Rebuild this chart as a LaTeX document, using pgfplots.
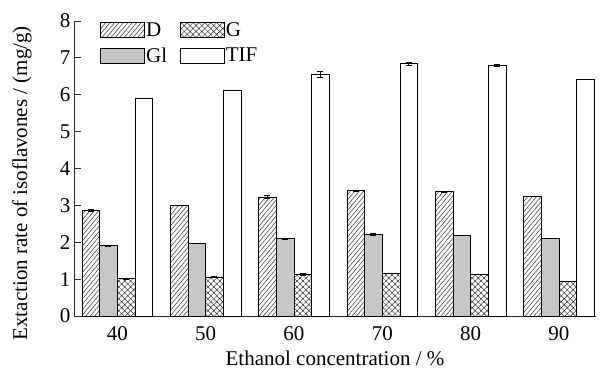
\documentclass[border=0pt]{standalone}
\usepackage{pgfplots}
\pgfplotsset{compat=1.18}
\usepackage{fontspec}
\setmainfont{Liberation Serif}
\usetikzlibrary{patterns.meta}
\begin{document}
\begin{tikzpicture}[font=\fontsize{21}{24}\selectfont]
\begin{axis}[
  scale only axis, width=522pt, height=295pt,
  xmin=-0.49, xmax=5.42, ymin=0, ymax=8,
  axis x line*=bottom, axis y line*=left,
  axis line style={-, line width=0.8pt, black!85},
  ytick={0,1,...,8}, tick align=inside, major tick length=7pt,
  y tick style={line width=0.8pt, black!85},
  xtick={0,1,2,3,4,5}, xticklabels={40,50,60,70,80,90},
  x tick style={draw=none},
  /pgf/number format/assume math mode=true,
  ybar, bar width=0.2,
  ylabel={Extaction rate of isoflavones / (mg/g)},
  ylabel style={at={(axis description cs:-0.0996,0.45)}, anchor=center},
  xlabel={Ethanol concentration / \%},
  xlabel style={at={(axis description cs:0.5,-0.142)}, anchor=center},
  legend style={at={(axis description cs:0.05,1.0)}, anchor=north west, draw=none, fill=none,
    inner sep=0pt, row sep=8pt, nodes={inner sep=1pt},
    /tikz/every even column/.append style={column sep=12pt}},
  legend columns=2, transpose legend, legend cell align=left,
  legend image code/.code={\draw[#1, line width=0.8pt] (0pt,-7.5pt) rectangle (44pt,7.5pt);},
  error bars/y dir=both, error bars/y explicit,
  error bars/error bar style={line width=0.6pt, black},
  error bars/error mark options={rotate=90, mark size=3pt, line width=0.6pt, black},
]
\addplot[draw=black, line width=0.8pt, bar shift=-0.3,
  pattern={Lines[angle=50, distance=3.4pt, line width=0.5pt]}, pattern color=black!80]
  coordinates {(0,2.87) +- (0,0.02) (1,2.99) +- (0,0.0) (2,3.23) +- (0,0.03)
               (3,3.40) +- (0,0.02) (4,3.37) +- (0,0.01) (5,3.24) +- (0,0.0)};
\addplot[draw=black, line width=0.8pt, bar shift=-0.1, fill=black!22]
  coordinates {(0,1.91) +- (0,0.01) (1,1.97) +- (0,0.0) (2,2.10) +- (0,0.01)
               (3,2.21) +- (0,0.02) (4,2.19) +- (0,0.01) (5,2.10) +- (0,0.0)};
\addplot[draw=black, line width=0.8pt, bar shift=0.1,
  pattern={Hatch[angle=45, distance=4.2pt, line width=0.5pt]}, pattern color=black!80]
  coordinates {(0,1.01) +- (0,0.02) (1,1.06) +- (0,0.02) (2,1.13) +- (0,0.02)
               (3,1.15) +- (0,0.0) (4,1.12) +- (0,0.0) (5,0.94) +- (0,0.0)};
\addplot[draw=black, line width=0.8pt, bar shift=0.3, fill=white]
  coordinates {(0,5.90) +- (0,0.0) (1,6.12) +- (0,0.01) (2,6.56) +- (0,0.08)
               (3,6.85) +- (0,0.04) (4,6.80) +- (0,0.03) (5,6.43) +- (0,0.0)};
\legend{D,Gl,G,TIF}
\end{axis}
\path (current axis.south west) ++(-74pt,-60pt) rectangle ++(601pt,376pt);
\end{tikzpicture}
\end{document}
